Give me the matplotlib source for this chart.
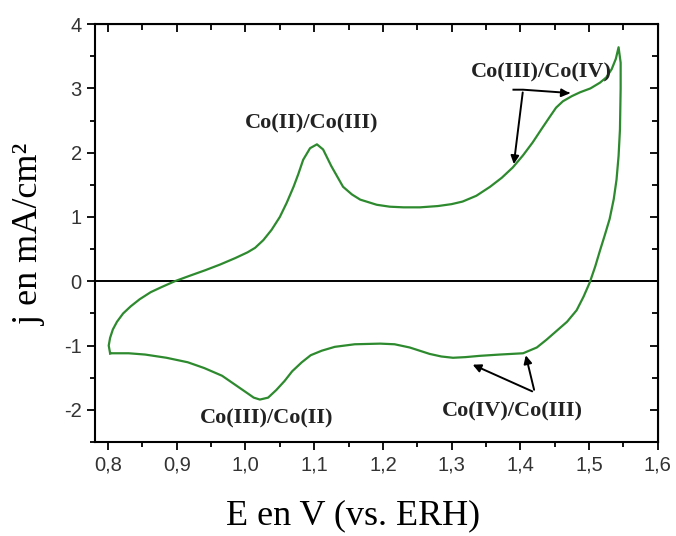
import numpy as np
import matplotlib
matplotlib.use("Agg")
import matplotlib.pyplot as plt
from matplotlib.ticker import MultipleLocator, FuncFormatter

# potential (V vs ERH) and current density (mA/cm2)
# forward (anodic) sweep
E_fwd = [0.803, 0.801, 0.803, 0.807, 0.813, 0.822, 0.833, 0.846, 0.862, 0.878,
         0.897, 0.920, 0.941, 0.963, 0.985, 1.003, 1.014, 1.026, 1.038, 1.050,
         1.060, 1.070, 1.077, 1.084, 1.094, 1.104, 1.113, 1.125, 1.142, 1.155,
         1.167, 1.191, 1.210, 1.230, 1.254, 1.280, 1.300, 1.316, 1.336, 1.356,
         1.373, 1.389, 1.404, 1.418, 1.431, 1.443, 1.452, 1.462, 1.475, 1.487,
         1.502, 1.516, 1.525, 1.533, 1.539, 1.543]
j_fwd = [-1.12, -1.00, -0.88, -0.75, -0.63, -0.50, -0.39, -0.28, -0.17, -0.09,
         0.00, 0.09, 0.17, 0.26, 0.36, 0.45, 0.52, 0.64, 0.80, 1.00,
         1.22, 1.47, 1.67, 1.89, 2.07, 2.13, 2.05, 1.79, 1.47, 1.35,
         1.27, 1.19, 1.16, 1.15, 1.15, 1.17, 1.20, 1.24, 1.33, 1.47,
         1.61, 1.77, 1.96, 2.16, 2.37, 2.56, 2.70, 2.80, 2.88, 2.94,
         3.00, 3.09, 3.17, 3.30, 3.46, 3.64]
# reverse (cathodic) sweep
E_rev = [1.546, 1.546, 1.545, 1.543, 1.540, 1.536, 1.530, 1.523, 1.516, 1.509,
         1.501, 1.492, 1.482, 1.468, 1.453, 1.438, 1.424, 1.404, 1.370, 1.341,
         1.320, 1.302, 1.285, 1.268, 1.239, 1.217, 1.196, 1.159, 1.130, 1.111,
         1.095, 1.082, 1.068, 1.057, 1.045, 1.033, 1.021, 1.012, 1.004, 0.985,
         0.966, 0.940, 0.916, 0.885, 0.854, 0.830, 0.803]
j_rev = [3.40, 3.00, 2.36, 1.95, 1.58, 1.28, 0.97, 0.72, 0.48, 0.23,
         -0.02, -0.24, -0.45, -0.63, -0.77, -0.91, -1.03, -1.12, -1.14, -1.16,
         -1.18, -1.19, -1.17, -1.13, -1.03, -0.98, -0.97, -0.98, -1.02, -1.08,
         -1.15, -1.26, -1.40, -1.55, -1.69, -1.81, -1.84, -1.81, -1.75, -1.61,
         -1.47, -1.35, -1.26, -1.19, -1.14, -1.12, -1.12]

green = '#2e8a2e'
serif = ['Liberation Serif', 'DejaVu Serif']
sans = ['Liberation Sans', 'DejaVu Sans']

fig = plt.figure(figsize=(6.76, 5.36), dpi=100)
ax = fig.add_axes([0.1405, 0.1754, 0.8325, 0.7796])

ax.plot(E_fwd + E_rev, j_fwd + j_rev, color=green, lw=1.6,
        solid_joinstyle='round')
ax.axhline(0, color='black', lw=1.4, zorder=1)

ax.set_xlim(0.781, 1.6)
ax.set_ylim(-2.5, 4)
ax.xaxis.set_major_locator(MultipleLocator(0.1))
ax.xaxis.set_minor_locator(MultipleLocator(0.05))
ax.yaxis.set_major_locator(MultipleLocator(1))
ax.yaxis.set_minor_locator(MultipleLocator(0.5))
ax.xaxis.set_major_formatter(FuncFormatter(lambda v, p: ('%.1f' % v).replace('.', ',')))
ax.yaxis.set_major_formatter(FuncFormatter(lambda v, p: '%d' % round(v)))

for s in ax.spines.values():
    s.set_linewidth(1.5)
ax.tick_params(which='both', direction='out', width=1.3, labelsize=14.5, colors='black')
ax.tick_params(which='major', length=6)
ax.tick_params(which='minor', length=3.5)
for lab in ax.get_xticklabels() + ax.get_yticklabels():
    lab.set_family(sans)
    lab.set_color('#333333')
# mirrored ticks on top/right, pointing in
axt = ax.secondary_xaxis('top')
axt.xaxis.set_major_locator(MultipleLocator(0.1))
axt.xaxis.set_minor_locator(MultipleLocator(0.05))
axt.tick_params(which='both', direction='in', width=1.3, labeltop=False)
axt.tick_params(which='major', length=6)
axt.tick_params(which='minor', length=4)
axr = ax.secondary_yaxis('right')
axr.yaxis.set_major_locator(MultipleLocator(1))
axr.yaxis.set_minor_locator(MultipleLocator(0.5))
axr.tick_params(which='both', direction='in', width=1.3, labelright=False)
axr.tick_params(which='major', length=6)
axr.tick_params(which='minor', length=4)

ann = dict(family=serif, fontweight='bold', fontsize=16, color='#222222',
           ha='center', va='center')
ax.text(1.097, 2.45, 'Co(II)/Co(III)', **ann)
ax.text(1.431, 3.25, 'Co(III)/Co(IV)', **ann)
ax.text(1.031, -2.14, 'Co(III)/Co(II)', **ann)
ax.text(1.388, -2.02, 'Co(IV)/Co(III)', **ann)

arr = dict(arrowstyle='-|>', color='black', lw=1.4, mutation_scale=12)
ax.plot([1.390, 1.404, 1.470], [2.98, 2.98, 2.93], color='black', lw=1.4)
ax.annotate('', xy=(1.476, 2.92), xytext=(1.462, 2.93), arrowprops=arr)
ax.annotate('', xy=(1.390, 1.78), xytext=(1.404, 2.98), arrowprops=arr)
ax.annotate('', xy=(1.327, -1.28), xytext=(1.421, -1.73), arrowprops=arr)
ax.annotate('', xy=(1.407, -1.11), xytext=(1.421, -1.73), arrowprops=arr)

fig.text(0.044, 0.563, 'j en mA/cm²', rotation=90, family=serif, fontsize=26,
         ha='center', va='center')
fig.text(0.522, 0.037, 'E en V (vs. ERH)', family=serif, fontsize=26,
         ha='center', va='center')

fig.savefig('out.png', dpi=100)
